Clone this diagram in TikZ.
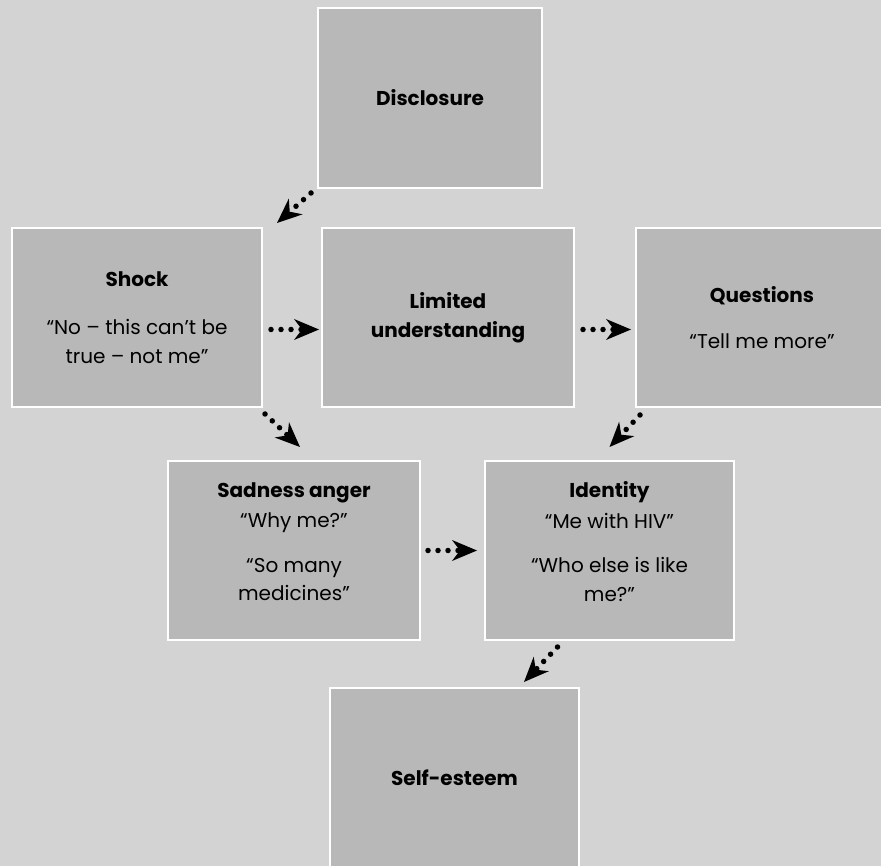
\documentclass[tikz,border=0pt]{standalone}
\usepackage{fontspec}
\setmainfont{Poppins}
\usetikzlibrary{arrows.meta}
\definecolor{bggray}{HTML}{D3D3D4}
\definecolor{boxgray}{HTML}{B8B8B9}
\tikzset{
  stage/.style={draw=white, line width=2pt, fill=boxgray, minimum height=179pt,
    inner sep=0pt, align=center, font=\fontsize{20}{28.5}\selectfont},
  flow/.style={line width=5.5pt, line cap=round, dash pattern=on 0pt off 10pt,
    -{Stealth[length=25pt,width=21pt,inset=8pt,line width=0pt]}}
}
\begin{document}
\begin{tikzpicture}[x=1pt,y=-1pt]
\useasboundingbox (0,0) rectangle (881,866);
\fill[bggray] (0,0) rectangle (881,866);

\node[stage, minimum width=224pt, minimum height=180pt] (disc) at (430,98) {\textbf{Disclosure}};
\node[stage, minimum width=250pt] (shock) at (137,317.5) {\textbf{Shock}\\[20pt]“No -- this can’t be\\true -- not me”};
\node[stage, minimum width=252pt] (lim) at (448,317.5) {\textbf{Limited}\\\textbf{understanding}};
\node[stage, minimum width=252pt] (quest) at (762,317.5) {\textbf{Questions}\\[17pt]“Tell me more”};
\node[stage, minimum width=252pt] (sad) at (294,550.5) {\textbf{Sadness anger}\\[2pt]“Why me?”\\[16pt]“So many\\medicines”\\[-10.5pt]\mbox{}};
\node[stage, minimum width=249pt] (ident) at (609.5,550.5) {\textbf{Identity}\\[2pt]“Me with HIV”\\[16pt]“Who else is like\\me?”\\[-10.5pt]\mbox{}};
\node[stage, minimum width=249pt] (self) at (454.5,777.5) {\textbf{Self-esteem}};

\draw[flow] ([shift={(-6,4)}]disc.south west) -- ([shift={(14,-4)}]shock.north east);
\draw[flow] ([shift={(8,12)}]shock.east) -- ([shift={(-2,12)}]lim.west);
\draw[flow] ([shift={(8,12)}]lim.east) -- ([shift={(-4,12)}]quest.west);
\draw[flow] ([shift={(2,6)}]shock.south east) -- ([shift={(6,-13)}]sad.north);
\draw[flow] ([shift={(5,7)}]quest.south west) -- ([shift={(0,-13)}]ident.north);
\draw[flow] ([shift={(7,0)}]sad.east) -- ([shift={(-7,0)}]ident.west);
\draw[flow] ([shift={(-52,6)}]ident.south) -- ([shift={(-56,-5)}]self.north east);
\end{tikzpicture}
\end{document}
